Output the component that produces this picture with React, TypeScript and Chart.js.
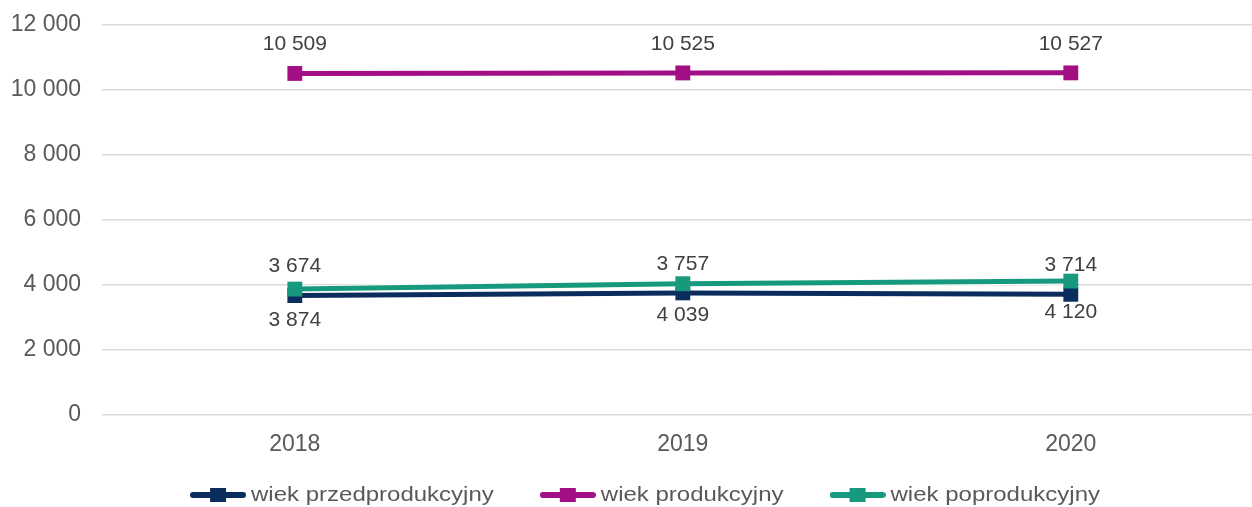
import { useEffect, useRef } from "react";
import { Chart, registerables } from "chart.js";

Chart.register(...registerables);

const years = [2018, 2019, 2020];
const przedprodukcyjny = [3674, 3757, 3714];
const produkcyjny = [10509, 10525, 10527];
const poprodukcyjny = [3874, 4039, 4120];
const seriesNames = ["wiek przedprodukcyjny", "wiek produkcyjny", "wiek poprodukcyjny"];
const seriesValues = [przedprodukcyjny, produkcyjny, poprodukcyjny];
const seriesColors = ["#0b2d5e", "#a20e83", "#17997d"];
const labelSide = [-1, -1, 1];
const yTickValues = [0, 2000, 4000, 6000, 8000, 10000, 12000];

const FONT = "'Liberation Sans', Arial, sans-serif";
const fmt = (v: number) => String(v).replace(/\B(?=(\d{3})+(?!\d))/g, " ");

function makeMarker(color: string) {
  const c = document.createElement("canvas");
  c.width = 56;
  c.height = 18;
  const g = c.getContext("2d")!;
  g.strokeStyle = color;
  g.lineWidth = 6;
  g.lineCap = "round";
  g.beginPath();
  g.moveTo(3, 9);
  g.lineTo(53, 9);
  g.stroke();
  g.fillStyle = color;
  g.fillRect(20, 2, 16, 14);
  return c;
}

const dataLabels = {
  id: "dataLabels",
  afterDatasetsDraw(chart: any) {
    const ctx = chart.ctx;
    ctx.save();
    ctx.font = `21px ${FONT}`;
    ctx.fillStyle = "#404040";
    ctx.textAlign = "center";
    ctx.textBaseline = "middle";
    chart.data.datasets.forEach((ds: any, i: number) => {
      if (ds.isBack) return;
      const s = ds.seriesIndex;
      const meta = chart.getDatasetMeta(i);
      meta.data.forEach((pt: any, j: number) => {
        const off = labelSide[s] < 0 ? -29 : 31;
        ctx.fillText(fmt(seriesValues[s][j]), pt.x, pt.y + off);
      });
    });
    ctx.restore();
  },
};

const customLegend = {
  id: "customLegend",
  afterDraw(chart: any) {
    const ctx = chart.ctx;
    ctx.save();
    const fontSize = 20;
    const sx = 1.2;
    ctx.font = `${fontSize}px ${FONT}`;
    const markerW = 56;
    const gapText = 5;
    const gapItem = 46;
    const widths = seriesNames.map((n) => ctx.measureText(n).width * sx);
    const total =
      widths.reduce((a, b) => a + b, 0) + seriesNames.length * (markerW + gapText) + gapItem * (seriesNames.length - 1);
    let x = 645 - total / 2;
    const y = 495;
    seriesNames.forEach((n, i) => {
      ctx.drawImage(makeMarker(seriesColors[i]), x, y - 9);
      x += markerW + gapText;
      ctx.save();
      ctx.translate(x, y);
      ctx.scale(sx, 1);
      ctx.fillStyle = "#595959";
      ctx.textAlign = "left";
      ctx.textBaseline = "middle";
      ctx.fillText(n, 0, 0);
      ctx.restore();
      x += widths[i] + gapItem;
    });
    ctx.restore();
  },
};

export default function App() {
  const ref = useRef<HTMLCanvasElement>(null);
  useEffect(() => {
    const datasets: any[] = [];
    seriesValues.forEach((vals, s) => {
      const pts = years.map((yr, j) => ({ x: yr, y: vals[j] }));
      datasets.push({
        label: seriesNames[s] + " bg",
        isBack: true,
        seriesIndex: s,
        data: pts,
        borderColor: "#ffffff",
        borderWidth: 7,
        pointRadius: 0,
        order: 10 - 2 * s,
      });
      datasets.push({
        label: seriesNames[s],
        isBack: false,
        seriesIndex: s,
        data: pts,
        borderColor: seriesColors[s],
        backgroundColor: seriesColors[s],
        borderWidth: 5,
        pointStyle: "rect",
        pointRadius: 10.5,
        pointBorderWidth: 0,
        pointBackgroundColor: seriesColors[s],
        order: 9 - 2 * s,
      });
    });
    const chart = new Chart(ref.current!, {
      type: "line",
      data: { datasets },
      options: {
        animation: false,
        responsive: false,
        layout: { autoPadding: false, padding: { top: 25, left: 0, right: 0, bottom: 0 } },
        plugins: { legend: { display: false }, tooltip: { enabled: false } },
        scales: {
          x: {
            type: "linear",
            min: 2017.503,
            max: 2020.467,
            grid: { display: false },
            border: { display: false },
            afterBuildTicks: (axis: any) => {
              axis.ticks = years.map((v) => ({ value: v }));
            },
            afterFit: (axis: any) => {
              axis.height = 92;
              axis.paddingLeft = 0;
              axis.paddingRight = 0;
            },
            ticks: {
              padding: 8,
              color: "#595959",
              font: { family: FONT, size: 23 },
              callback: (v: any) => String(v),
            },
          },
          y: {
            min: 0,
            max: 12000,
            afterBuildTicks: (axis: any) => {
              axis.ticks = yTickValues.map((v) => ({ value: v }));
            },
            afterFit: (axis: any) => {
              axis.width = 102;
              axis.paddingTop = 0;
              axis.paddingBottom = 0;
            },
            grid: { color: "#d9d9d9", lineWidth: 1.5, drawTicks: false },
            border: { display: false },
            ticks: {
              padding: 21,
              color: "#595959",
              font: { family: FONT, size: 23 },
              callback: (v: any) => fmt(Number(v)),
            },
          },
        },
      },
      plugins: [dataLabels, customLegend],
    });
    return () => chart.destroy();
  }, []);
  return (
    <div style={{ position: "fixed", left: 0, top: 0, width: 1252, height: 507, background: "#fff" }}>
      <canvas ref={ref} width={1252} height={507} style={{ display: "block" }} />
    </div>
  );
}
